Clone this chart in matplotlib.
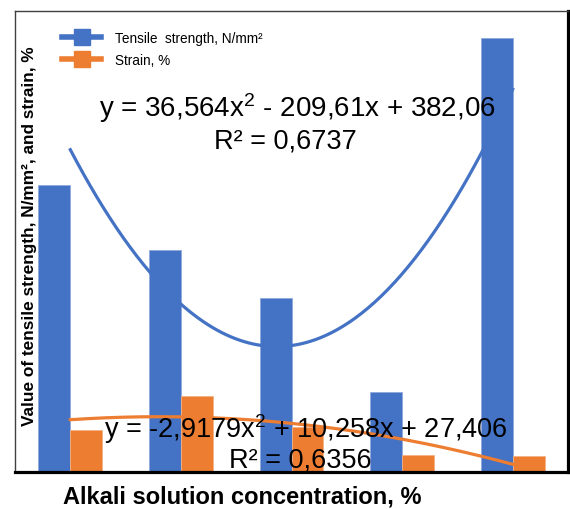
import matplotlib
matplotlib.use("Agg")
import matplotlib.pyplot as plt
from matplotlib.lines import Line2D
import numpy as np

plt.rcParams['font.family'] = ['Liberation Sans', 'DejaVu Sans']
plt.rcParams['mathtext.fontset'] = 'custom'
plt.rcParams['mathtext.rm'] = 'Liberation Sans'
plt.rcParams['mathtext.it'] = 'Liberation Sans'

categories = [1, 2, 3, 4, 5]
tensile = [185, 143, 112, 51.5, 279.5]
strain = [27.0, 48.9, 28.5, 10.6, 10.2]
series_labels = ["Tensile  strength, N/mm²", "Strain, %"]
eq_tensile = "y = 36,564x$^{2}$ - 209,61x + 382,06"
r2_tensile = "R² = 0,6737"
eq_strain = "y = -2,9179x$^{2}$ + 10,258x + 27,406"
r2_strain = "R² = 0,6356"
xlabel = "Alkali solution concentration, %"
ylabel = "Value of tensile strength, N/mm², and strain, %"

blue = "#4472C4"
orange = "#ED7D31"

W, H = 570, 510
fig = plt.figure(figsize=(W / 100, H / 100), dpi=100)
ax = fig.add_axes([15 / W, (H - 472.5) / H, (568 - 15) / W, (472.5 - 12) / H])

x = np.array(categories, dtype=float)
bw = 0.288
ax.bar(x - bw / 2, tensile, bw, color=blue, edgecolor="#8faadc", linewidth=0.6, zorder=2)
ax.bar(x + bw / 2, strain, bw, color=orange, edgecolor="#f4b183", linewidth=0.6, zorder=2)

xs = np.linspace(x[0], x[-1], 200)
pt = np.polyfit(x, tensile, 2)
ps = np.polyfit(x, strain, 2)
ax.plot(xs, np.polyval(pt, xs), color=blue, lw=2.3, zorder=3)
ax.plot(xs, np.polyval(ps, xs), color=orange, lw=2.3, zorder=3)

ax.set_xlim(0.5, 5.5)
ax.set_ylim(0, (472.5 - 12) / 1.55)
ax.set_xticks([])
ax.set_yticks([])

ax.spines['bottom'].set_linewidth(2.3)
ax.spines['bottom'].set_color('black')
ax.spines['right'].set_linewidth(2.3)
ax.spines['right'].set_color('black')
ax.spines['left'].set_linewidth(1.0)
ax.spines['left'].set_color('#404040')
ax.spines['top'].set_linewidth(1.0)
ax.spines['top'].set_color('#404040')

fig.text(297 / W, 1 - 108 / H, eq_tensile, fontsize=20, ha='center', va='center', zorder=5)
fig.text(285 / W, 1 - 141 / H, r2_tensile, fontsize=19.5, ha='center', va='center', zorder=5)
fig.text(306 / W, 1 - 429 / H, eq_strain, fontsize=19.5, ha='center', va='center', zorder=5)
fig.text(300 / W, 1 - 461 / H, r2_strain, fontsize=19.5, ha='center', va='center', zorder=5)

handles = [Line2D([], [], color=blue, lw=4, marker='s', markersize=12),
           Line2D([], [], color=orange, lw=4, marker='s', markersize=12)]
fig.legend(handles, series_labels, loc='upper left', bbox_to_anchor=(62 / W, 1 - 32 / H),
           frameon=False, fontsize=9.8, handlelength=2.9, handletextpad=1.0,
           labelspacing=0.6, borderpad=0, borderaxespad=0)

fig.text(30 / W, 1 - 236 / H, ylabel, rotation=90, fontsize=12.4, fontweight='bold',
         ha='center', va='center')
fig.text(242 / W, 1 - 497 / H, xlabel, fontsize=17, fontweight='bold',
         ha='center', va='center')

fig.savefig("out.png", dpi=100)
